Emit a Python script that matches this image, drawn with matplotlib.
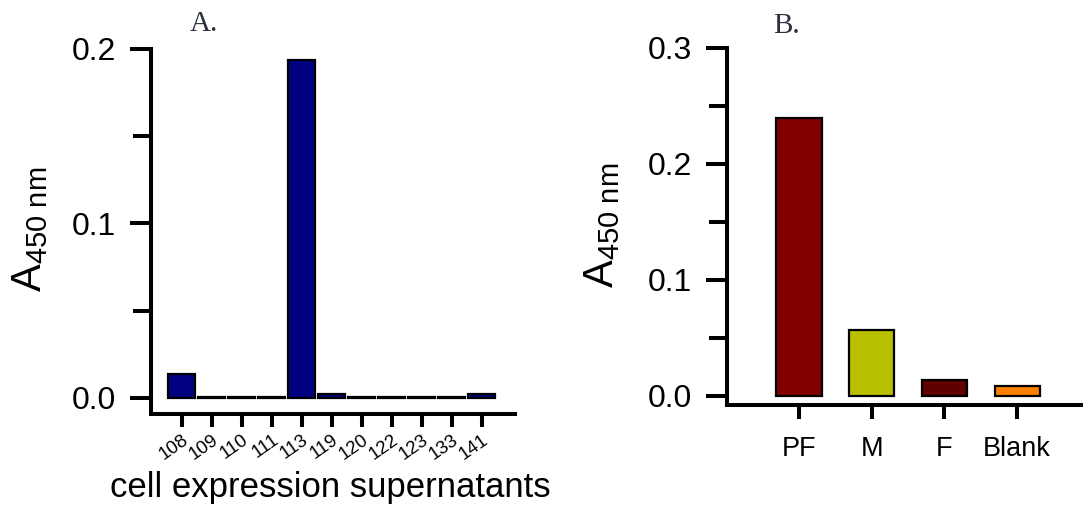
import matplotlib
matplotlib.use("Agg")
import matplotlib.pyplot as plt
from matplotlib.ticker import MultipleLocator, FuncFormatter

plt.rcParams['font.family'] = ['Liberation Sans', 'DejaVu Sans']
plt.rcParams['mathtext.fontset'] = 'custom'
plt.rcParams['mathtext.rm'] = 'Liberation Sans'
plt.rcParams['mathtext.it'] = 'Liberation Sans'

# Panel A: screening of cell expression supernatants
clones = ['108', '109', '110', '111', '113', '119', '120', '122', '123', '133', '141']
clone_abs = [0.0137, 0.0008, 0.0008, 0.0008, 0.1937, 0.0025, 0.0008, 0.0008, 0.0008, 0.0008, 0.0025]

# Panel B: fractions
fractions = ['PF', 'M', 'F', 'Blank']
fraction_abs = [0.240, 0.0567, 0.0137, 0.0086]
fraction_colors = ['#800000', '#b8c000', '#600000', '#ff8000']

W, H = 1083, 508
fig = plt.figure(figsize=(W / 100, H / 100), dpi=100)

SPINE_LW = 2.9
fmt = FuncFormatter(lambda v, p: f'{v:.1f}')


def style_axes(ax):
    for s in ('top', 'right'):
        ax.spines[s].set_visible(False)
    for s in ('left', 'bottom'):
        ax.spines[s].set_linewidth(SPINE_LW)
        ax.spines[s].set_capstyle('projecting')
    ax.tick_params(axis='y', which='major', length=15, width=SPINE_LW,
                   labelsize=23, pad=10)
    ax.tick_params(axis='y', which='minor', length=13, width=SPINE_LW)
    ax.tick_params(axis='x', which='major', length=9, width=SPINE_LW)
    ax.yaxis.set_major_locator(MultipleLocator(0.1))
    ax.yaxis.set_minor_locator(MultipleLocator(0.05))
    ax.yaxis.set_major_formatter(fmt)


# ---- Panel A ----
axA = fig.add_axes([151 / W, 1 - 413.5 / H, (515 - 151) / W, (413.5 - 49) / H])
xA = list(range(len(clones)))
axA.bar(xA, clone_abs, width=0.9, color='#000080', edgecolor='black', linewidth=1.6)
axA.set_xlim(-1.03, 11.1)
axA.set_ylim(-0.0089, 0.2)
style_axes(axA)
axA.set_xticks(xA)
axA.set_xticklabels(clones, rotation=35, ha='right', va='top',
                    rotation_mode='anchor', fontsize=13.5)
axA.tick_params(axis='x', pad=4)
fig.text(190 / W, 1 - 24 / H, 'A.', family='Liberation Serif', fontsize=21,
         color='#2b3041', ha='left', va='center')
fig.text(10 / W, 1 - 229 / H, r'$\mathregular{A_{450\ nm}}$', rotation=90,
         fontsize=30, ha='left', va='center')
fig.text(330 / W, 1 - 488 / H, 'cell expression supernatants', fontsize=25,
         ha='center', va='center')

# ---- Panel B ----
axB = fig.add_axes([727 / W, 1 - 405 / H, (1083 - 727) / W, (405 - 48) / H])
xB = list(range(len(fractions)))
axB.bar(xB, fraction_abs, width=0.62, color=fraction_colors,
        edgecolor='black', linewidth=1.6)
axB.set_xlim(-0.99, 3.906)
axB.set_ylim(-0.0078, 0.3)
style_axes(axB)
axB.tick_params(axis='x', length=10)
axB.set_xticks(xB)
axB.set_xticklabels(fractions, fontsize=19.5)
axB.tick_params(axis='x', pad=12)
fig.text(773 / W, 1 - 26 / H, 'B.', family='Liberation Serif', fontsize=21,
         color='#2b3041', ha='left', va='center')
fig.text(582 / W, 1 - 225 / H, r'$\mathregular{A_{450\ nm}}$', rotation=90,
         fontsize=30, ha='left', va='center')

fig.savefig('out.png', dpi=100)
